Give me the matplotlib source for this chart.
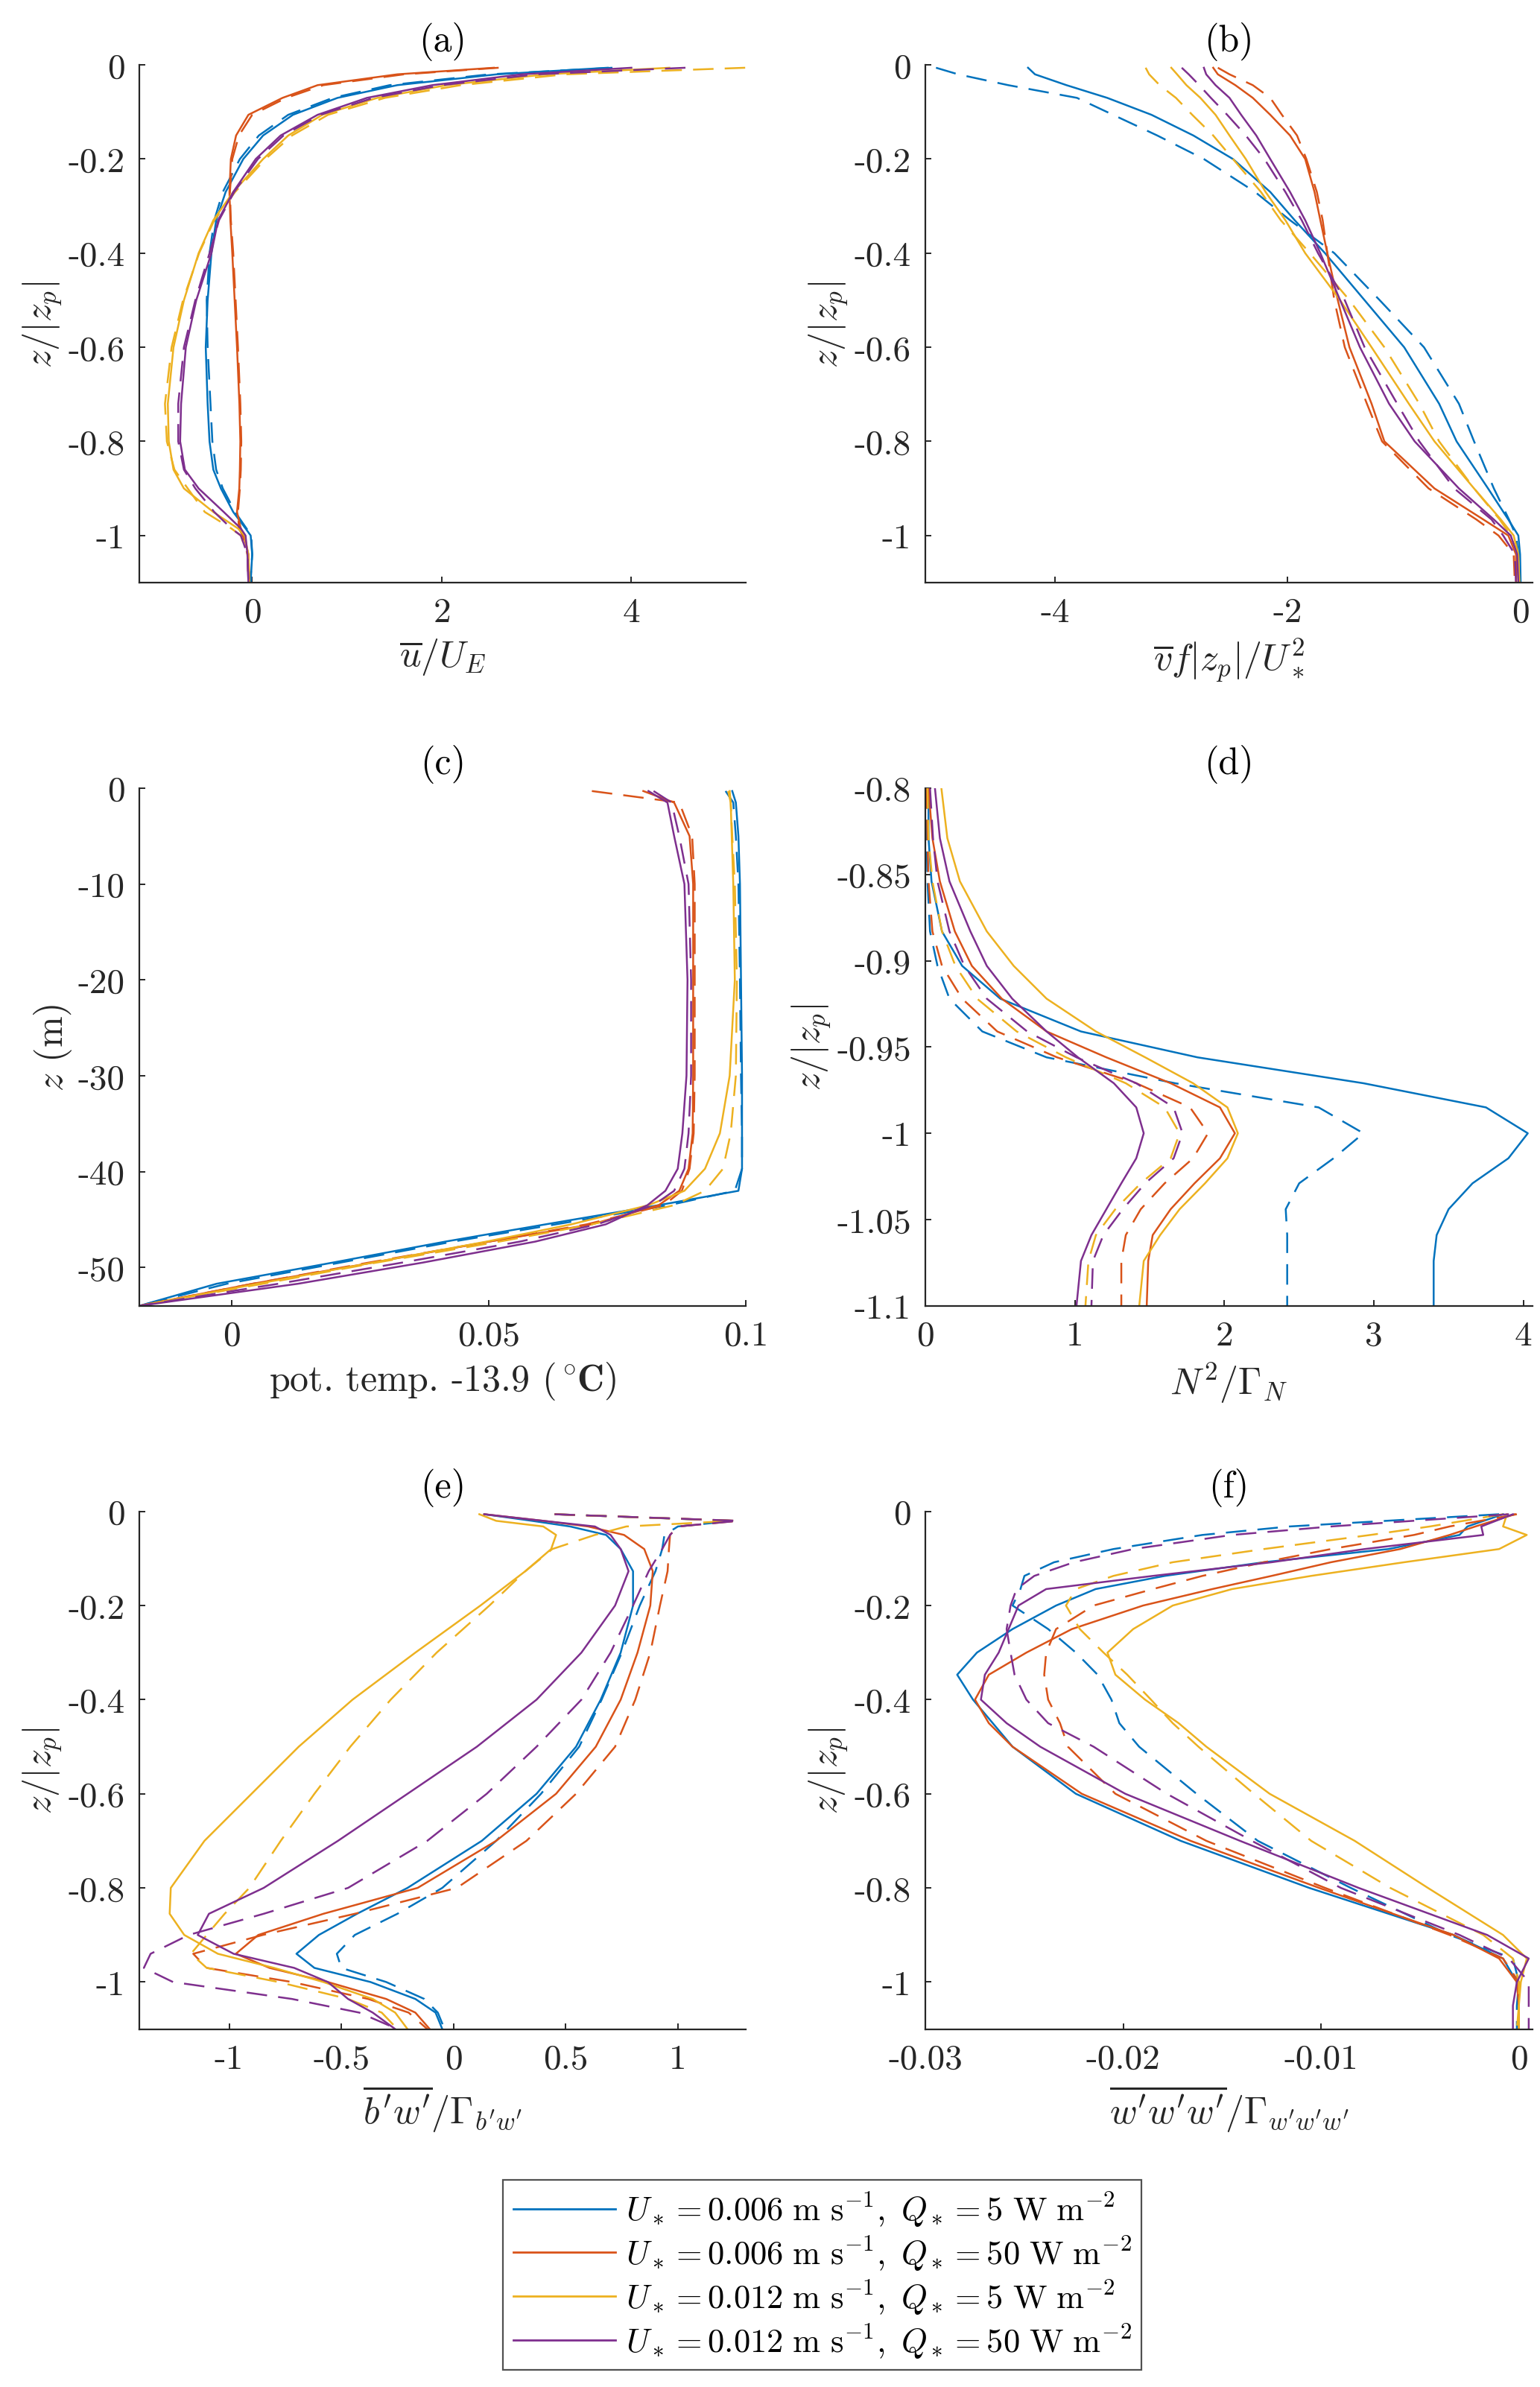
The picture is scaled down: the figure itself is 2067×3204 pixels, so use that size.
import matplotlib
matplotlib.use('Agg')
import matplotlib.pyplot as plt
from matplotlib.lines import Line2D

plt.rcParams['mathtext.fontset'] = 'cm'
plt.rcParams['font.family'] = ['cmr10', 'DejaVu Serif']
plt.rcParams['axes.unicode_minus'] = False
plt.rcParams['axes.formatter.use_mathtext'] = True

# colours (MATLAB default order) and legend labels
colors = ['#0072BD', '#D95319', '#EDB120', '#7E2F8E']
labels = [r'$U_* = 0.006\ \mathrm{m\ s^{-1}},\ Q_* = 5\ \mathrm{W\ m^{-2}}$',
          r'$U_* = 0.006\ \mathrm{m\ s^{-1}},\ Q_* = 50\ \mathrm{W\ m^{-2}}$',
          r'$U_* = 0.012\ \mathrm{m\ s^{-1}},\ Q_* = 5\ \mathrm{W\ m^{-2}}$',
          r'$U_* = 0.012\ \mathrm{m\ s^{-1}},\ Q_* = 50\ \mathrm{W\ m^{-2}}$']

# ---- (a) mean u
za = [-0.006, -0.02, -0.043, -0.07, -0.106, -0.15, -0.2, -0.27, -0.33, -0.4, -0.5,
      -0.6, -0.72, -0.8, -0.86, -0.9, -0.95, -0.985, -1.0, -1.04, -1.1]
a_blue = [3.75, 2.58, 1.53, 0.9, 0.43, 0.115, -0.094, -0.28, -0.38, -0.43, -0.47,
          -0.49, -0.47, -0.45, -0.41, -0.33, -0.2, -0.07, -0.016, 0.0, -0.016]
a_blue_d = [3.8, 2.5, 1.45, 0.85, 0.38, 0.07, -0.13, -0.31, -0.4, -0.45, -0.48,
            -0.47, -0.44, -0.42, -0.38, -0.31, -0.18, -0.06, -0.01, 0.0, -0.02]
a_red = [2.55, 1.53, 0.69, 0.32, -0.04, -0.17, -0.225, -0.24, -0.23, -0.21, -0.185,
         -0.16, -0.135, -0.125, -0.13, -0.136, -0.16, -0.12, -0.09, -0.04, -0.03]
a_red_d = [2.6, 1.6, 0.75, 0.36, 0.0, -0.14, -0.21, -0.235, -0.225, -0.2, -0.175,
           -0.15, -0.125, -0.115, -0.12, -0.13, -0.15, -0.14, -0.1, -0.05, -0.04]
a_yel = [4.4, 3.1, 2.05, 1.32, 0.74, 0.38, 0.115, -0.2, -0.41, -0.565, -0.72,
         -0.83, -0.89, -0.88, -0.83, -0.72, -0.41, -0.15, -0.08, -0.04, -0.03]
a_yel_d = [5.2, 3.3, 2.2, 1.4, 0.8, 0.42, 0.14, -0.18, -0.4, -0.56, -0.73,
           -0.85, -0.92, -0.9, -0.82, -0.68, -0.5, -0.22, -0.12, -0.05, -0.03]
a_pur = [4.0, 2.84, 1.9, 1.21, 0.69, 0.3, 0.037, -0.2, -0.36, -0.43, -0.59,
         -0.7, -0.75, -0.76, -0.71, -0.565, -0.3, -0.12, -0.07, -0.05, -0.04]
a_pur_d = [4.57, 3.0, 2.0, 1.28, 0.72, 0.33, 0.06, -0.19, -0.35, -0.45, -0.6,
           -0.72, -0.78, -0.78, -0.72, -0.6, -0.4, -0.22, -0.12, -0.05, -0.04]

# ---- (b) mean v
zb = [-0.006, -0.02, -0.043, -0.07, -0.106, -0.15, -0.2, -0.27, -0.33, -0.4, -0.5,
      -0.6, -0.72, -0.8, -0.9, -0.966, -1.0, -1.04, -1.1]
b_blue = [-4.23, -4.17, -3.9, -3.55, -3.17, -2.81, -2.47, -2.15, -1.94, -1.68, -1.34,
          -1.0, -0.7, -0.55, -0.28, -0.106, -0.02, -0.005, 0.0]
b_blue_d = [-5.02, -4.83, -4.4, -3.81, -3.5, -3.12, -2.72, -2.28, -1.98, -1.6, -1.21,
            -0.83, -0.53, -0.4, -0.23, -0.1, -0.04, -0.02, -0.01]
b_red = [-2.64, -2.6, -2.45, -2.3, -2.15, -1.98, -1.85, -1.77, -1.72, -1.66, -1.57,
         -1.47, -1.28, -1.17, -0.74, -0.32, -0.106, -0.04, -0.04]
b_red_d = [-2.6, -2.5, -2.3, -2.15, -2.05, -1.92, -1.84, -1.75, -1.7, -1.66, -1.6,
           -1.51, -1.32, -1.19, -0.79, -0.38, -0.19, -0.06, -0.05]
b_yel = [-3.0, -2.95, -2.87, -2.75, -2.62, -2.5, -2.36, -2.19, -2.02, -1.85, -1.55,
         -1.28, -0.96, -0.74, -0.4, -0.17, -0.06, -0.02, -0.01]
b_yel_d = [-3.22, -3.19, -3.1, -2.96, -2.82, -2.64, -2.47, -2.23, -2.06, -1.81, -1.47,
           -1.17, -0.87, -0.7, -0.4, -0.18, -0.085, -0.03, -0.02]
b_pur = [-2.72, -2.7, -2.62, -2.5, -2.4, -2.27, -2.15, -1.98, -1.85, -1.72, -1.55,
         -1.38, -1.13, -0.91, -0.53, -0.23, -0.085, -0.03, -0.02]
b_pur_d = [-2.91, -2.85, -2.76, -2.66, -2.52, -2.36, -2.2, -2.02, -1.88, -1.74, -1.51,
           -1.34, -1.06, -0.87, -0.57, -0.25, -0.15, -0.05, -0.04]

# ---- (c) potential temperature
zc = [-0.3, -1.5, -5, -10, -20, -30, -36, -39.7, -42, -43.5, -45.5, -47.3, -49.5, -51.7, -54]
c_blue = [0.0973, 0.098, 0.0985, 0.0988, 0.099, 0.0992, 0.0992, 0.0992, 0.0985, 0.083,
          0.061, 0.0415, 0.0195, -0.003, -0.018]
c_blue_d = [0.096, 0.0975, 0.098, 0.0985, 0.0988, 0.099, 0.0992, 0.0992, 0.0978, 0.085,
            0.063, 0.043, 0.021, -0.001, -0.018]
c_red = [0.080, 0.086, 0.089, 0.0897, 0.0897, 0.0897, 0.0896, 0.0888, 0.087, 0.083,
         0.07, 0.05, 0.0273, 0.004, -0.018]
c_red_d = [0.070, 0.087, 0.0895, 0.09, 0.09, 0.09, 0.0898, 0.089, 0.0875, 0.084,
           0.069, 0.05, 0.0265, 0.004, -0.018]
c_yel = [0.0968, 0.097, 0.0972, 0.0975, 0.0978, 0.0968, 0.0949, 0.092, 0.088, 0.081,
         0.066, 0.0495, 0.0273, 0.005, -0.018]
c_yel_d = [0.0965, 0.097, 0.0973, 0.0978, 0.0982, 0.098, 0.097, 0.0955, 0.092, 0.086,
           0.07, 0.052, 0.028, 0.006, -0.018]
c_pur = [0.081, 0.0847, 0.086, 0.088, 0.0886, 0.0884, 0.0876, 0.0867, 0.0843, 0.0808,
         0.0727, 0.059, 0.037, 0.0128, -0.018]
c_pur_d = [0.082, 0.0855, 0.087, 0.0888, 0.0893, 0.0893, 0.0888, 0.088, 0.086, 0.082,
           0.071, 0.056, 0.033, 0.009, -0.018]

# ---- (d) N^2
zd = [-0.8, -0.829, -0.854, -0.883, -0.903, -0.922, -0.941, -0.956, -0.971, -0.985,
      -1.0, -1.0145, -1.029, -1.044, -1.059, -1.074, -1.1]
d_blue = [0.02, 0.02, 0.04, 0.11, 0.245, 0.5, 1.04, 1.82, 2.93, 3.75, 4.03, 3.9, 3.66,
          3.5, 3.42, 3.40, 3.40]
d_blue_d = [0.007, 0.007, 0.013, 0.03, 0.08, 0.16, 0.38, 0.81, 1.67, 2.63, 2.93, 2.73,
            2.5, 2.41, 2.42, 2.42, 2.42]
d_red = [0.02, 0.046, 0.096, 0.196, 0.31, 0.51, 0.81, 1.21, 1.64, 1.97, 2.07, 1.97, 1.8,
         1.64, 1.52, 1.49, 1.48]
d_red_d = [0.007, 0.013, 0.02, 0.046, 0.11, 0.245, 0.48, 0.88, 1.41, 1.77, 1.89, 1.79,
           1.6, 1.44, 1.34, 1.31, 1.31]
d_yel = [0.106, 0.146, 0.23, 0.41, 0.59, 0.81, 1.14, 1.47, 1.79, 2.02, 2.09, 2.02, 1.87,
         1.7, 1.57, 1.46, 1.43]
d_yel_d = [0.013, 0.02, 0.046, 0.11, 0.2, 0.345, 0.61, 0.94, 1.34, 1.6, 1.7, 1.64, 1.44,
           1.27, 1.14, 1.09, 1.07]
d_pur = [0.063, 0.096, 0.16, 0.3, 0.41, 0.58, 0.81, 1.02, 1.26, 1.41, 1.46, 1.41, 1.31,
         1.21, 1.11, 1.04, 1.01]
d_pur_d = [0.03, 0.05, 0.08, 0.16, 0.26, 0.41, 0.68, 1.01, 1.41, 1.66, 1.72, 1.66, 1.47,
           1.32, 1.19, 1.12, 1.11]

# ---- (e) buoyancy flux
ze = [-0.006, -0.02, -0.032, -0.05, -0.08, -0.127, -0.2, -0.3, -0.4, -0.5, -0.6, -0.7,
      -0.8, -0.855, -0.9, -0.94, -0.97, -1.0, -1.036, -1.065, -1.1]
e_blue = [0.137, 0.35, 0.52, 0.68, 0.745, 0.8, 0.8, 0.745, 0.656, 0.546, 0.37, 0.126,
          -0.205, -0.43, -0.6, -0.7, -0.62, -0.37, -0.17, -0.08, -0.05]
e_blue_d = [0.45, 1.25, 1.0, 0.94, 0.93, 0.9, 0.83, 0.75, 0.66, 0.56, 0.39, 0.19,
            -0.05, -0.25, -0.44, -0.52, -0.5, -0.3, -0.13, -0.07, -0.04]
e_red = [0.137, 0.4, 0.6, 0.76, 0.85, 0.888, 0.877, 0.82, 0.745, 0.634, 0.457, 0.19,
         -0.16, -0.58, -0.87, -0.97, -0.82, -0.56, -0.3, -0.17, -0.106]
e_red_d = [0.45, 1.27, 1.0, 0.965, 0.96, 0.954, 0.92, 0.877, 0.81, 0.72, 0.546, 0.325,
           0.015, -0.44, -0.85, -1.16, -1.1, -0.72, -0.38, -0.2, -0.117]
e_yel = [0.115, 0.19, 0.4, 0.457, 0.435, 0.32, 0.12, -0.17, -0.45, -0.69, -0.9, -1.11,
         -1.26, -1.265, -1.2, -1.05, -0.8, -0.58, -0.36, -0.26, -0.205]
e_yel_d = [0.45, 1.25, 0.77, 0.63, 0.44, 0.32, 0.16, -0.075, -0.28, -0.46, -0.62, -0.77,
           -0.91, -1.02, -1.1, -1.17, -1.1, -0.78, -0.47, -0.32, -0.25]
e_pur = [0.137, 0.4, 0.63, 0.7, 0.745, 0.78, 0.72, 0.57, 0.37, 0.104, -0.205, -0.515,
         -0.846, -1.09, -1.14, -0.98, -0.71, -0.56, -0.47, -0.36, -0.26]
e_pur_d = [0.45, 1.27, 1.0, 0.965, 0.93, 0.87, 0.8, 0.7, 0.57, 0.37, 0.148, -0.117,
           -0.47, -0.846, -1.18, -1.35, -1.38, -1.25, -0.72, -0.42, -0.25]

# ---- (f) third moment of w
zf = [-0.006, -0.032, -0.05, -0.08, -0.108, -0.137, -0.165, -0.2, -0.25, -0.3, -0.347,
      -0.4, -0.45, -0.5, -0.6, -0.7, -0.8, -0.9, -0.95, -1.0, -1.05, -1.1]
f_blue = [-0.0008, -0.0026, -0.003, -0.0066, -0.0129, -0.0179, -0.0214, -0.0234, -0.0256,
          -0.0274, -0.0284, -0.0276, -0.0266, -0.0256, -0.0224, -0.0171, -0.0106, -0.0033,
          -0.0008, -0.0001, 0.0, 0.0]
f_blue_d = [-0.001, -0.0116, -0.016, -0.0205, -0.0235, -0.025, -0.0252, -0.0256, -0.0238,
            -0.0224, -0.0213, -0.0206, -0.0202, -0.0192, -0.0163, -0.0132, -0.0085, -0.0035,
            -0.0003, 0.0, -0.0001, -0.0001]
f_red = [-0.0002, -0.0022, -0.0035, -0.006, -0.0095, -0.0125, -0.0155, -0.019, -0.0226,
         -0.0249, -0.0268, -0.0275, -0.0268, -0.0256, -0.0221, -0.0166, -0.0101, -0.0033,
         -0.001, -0.0001, 0.0, 0.0]
f_red_d = [-0.0001, -0.0035, -0.0053, -0.0095, -0.0129, -0.016, -0.0185, -0.0215, -0.0234,
           -0.0239, -0.024, -0.0238, -0.0232, -0.0228, -0.0204, -0.0158, -0.0098, -0.0035,
           -0.0008, 0.0, 0.0, 0.0]
f_yel = [-0.0006, -0.0008, 0.0004, -0.001, -0.0058, -0.0105, -0.0145, -0.0175, -0.0195,
         -0.0208, -0.0204, -0.0189, -0.0172, -0.0158, -0.0126, -0.0083, -0.0046, -0.0008,
         0.0004, 0.0001, 0.0, 0.0]
f_yel_d = [-0.0008, -0.0045, -0.0075, -0.0129, -0.0175, -0.0205, -0.0224, -0.0229, -0.0222,
           -0.021, -0.0198, -0.0186, -0.0175, -0.0162, -0.0134, -0.0105, -0.0065, -0.0018,
           -0.0003, 0.0, 0.0, -0.0001]
f_pur = [-0.0003, -0.0019, -0.0018, -0.0078, -0.0125, -0.0185, -0.0239, -0.0253, -0.0258,
         -0.0263, -0.027, -0.0272, -0.0259, -0.0242, -0.0199, -0.0141, -0.0081, -0.0016,
         0.0005, -0.0001, -0.0003, -0.0003]
f_pur_d = [-0.0005, -0.0095, -0.0145, -0.0195, -0.0225, -0.0245, -0.0254, -0.0257, -0.0259,
           -0.0257, -0.0255, -0.0249, -0.0238, -0.0215, -0.0178, -0.0135, -0.009, -0.003,
           -0.0005, 0.0005, 0.0005, 0.0005]

panels = [
    ('(a)', za, [a_blue, a_red, a_yel, a_pur], [a_blue_d, a_red_d, a_yel_d, a_pur_d],
     (-1.19, 5.21), [0, 2, 4], (-1.1, 0), [-1, -0.8, -0.6, -0.4, -0.2, 0],
     r'$\overline{u}/U_E$', r'$z/|z_p|$'),
    ('(b)', zb, [b_blue, b_red, b_yel, b_pur], [b_blue_d, b_red_d, b_yel_d, b_pur_d],
     (-5.11, 0.1), [-4, -2, 0], (-1.1, 0), [-1, -0.8, -0.6, -0.4, -0.2, 0],
     r'$\overline{v}f|z_p|/U_*^2$', r'$z/|z_p|$'),
    ('(c)', zc, [c_blue, c_red, c_yel, c_pur], [c_blue_d, c_red_d, c_yel_d, c_pur_d],
     (-0.018, 0.1), [0, 0.05, 0.1], (-54, 0), [-50, -40, -30, -20, -10, 0],
     r'pot. temp. -13.9 ($\mathbf{^\circ\!C}$)', r'$z$ (m)'),
    ('(d)', zd, [d_blue, d_red, d_yel, d_pur], [d_blue_d, d_red_d, d_yel_d, d_pur_d],
     (0, 4.06), [0, 1, 2, 3, 4], (-1.1, -0.8), [-1.1, -1.05, -1, -0.95, -0.9, -0.85, -0.8],
     r'$N^2/\Gamma_N$', r'$z/|z_p|$'),
    ('(e)', ze, [e_blue, e_red, e_yel, e_pur], [e_blue_d, e_red_d, e_yel_d, e_pur_d],
     (-1.4, 1.304), [-1, -0.5, 0, 0.5, 1], (-1.1, 0), [-1, -0.8, -0.6, -0.4, -0.2, 0],
     r"$\overline{b^\prime w^\prime}/\Gamma_{b^\prime w^\prime}$", r'$z/|z_p|$'),
    ('(f)', zf, [f_blue, f_red, f_yel, f_pur], [f_blue_d, f_red_d, f_yel_d, f_pur_d],
     (-0.03, 0.00068), [-0.03, -0.02, -0.01, 0], (-1.1, 0), [-1, -0.8, -0.6, -0.4, -0.2, 0],
     r"$\overline{w^\prime w^\prime w^\prime}/\Gamma_{w^\prime w^\prime w^\prime}$", r'$z/|z_p|$'),
]

# axes boxes in figure fractions: [left, bottom, width, height]
lefts = [0.0905, 0.601]
bottoms = [0.7557, 0.4528, 0.1499]
W, H = 0.394, 0.2168

fig = plt.figure(figsize=(10.335, 16.025), dpi=200)
axcol = '#262626'
fs = 17

for i, (ttl, z, solid, dashed, xl, xt, yl, yt, xlab, ylab) in enumerate(panels):
    ax = fig.add_axes([lefts[i % 2], bottoms[i // 2], W, H])
    for k in range(4):
        ax.plot(solid[k], z, color=colors[k], lw=0.9)
        ax.plot(dashed[k], z, color=colors[k], lw=0.9, dashes=(11, 6))
    ax.set_xlim(xl)
    ax.set_ylim(yl)
    ax.set_xticks(xt)
    ax.set_xticklabels([f'{v:g}' for v in xt])
    ax.set_yticks(yt)
    ax.set_yticklabels([f'{v:g}' for v in yt])
    for s in ['top', 'right']:
        ax.spines[s].set_visible(False)
    for s in ['left', 'bottom']:
        ax.spines[s].set_color(axcol)
        ax.spines[s].set_linewidth(0.8)
    ax.tick_params(direction='in', length=3, width=0.7, colors=axcol,
                   labelsize=fs, pad=7)
    ax.set_title(ttl, fontsize=fs + 1, color='black', pad=7)
    ax.set_xlabel(xlab, fontsize=fs + 1, color=axcol, labelpad=4)
    ax.set_ylabel(ylab, fontsize=fs + 1, color=axcol, labelpad=2)

handles = [Line2D([], [], color=c, lw=1.0) for c in colors]
leg = fig.legend(handles, labels, loc='center', bbox_to_anchor=(0.534, 0.047),
                 fontsize=16, frameon=True, fancybox=False, edgecolor=axcol,
                 handlelength=3.1, borderpad=0.3, labelspacing=0.15, handletextpad=0.3,
                 borderaxespad=0)
leg.get_frame().set_linewidth(0.8)

fig.savefig('out.png', dpi=200)
